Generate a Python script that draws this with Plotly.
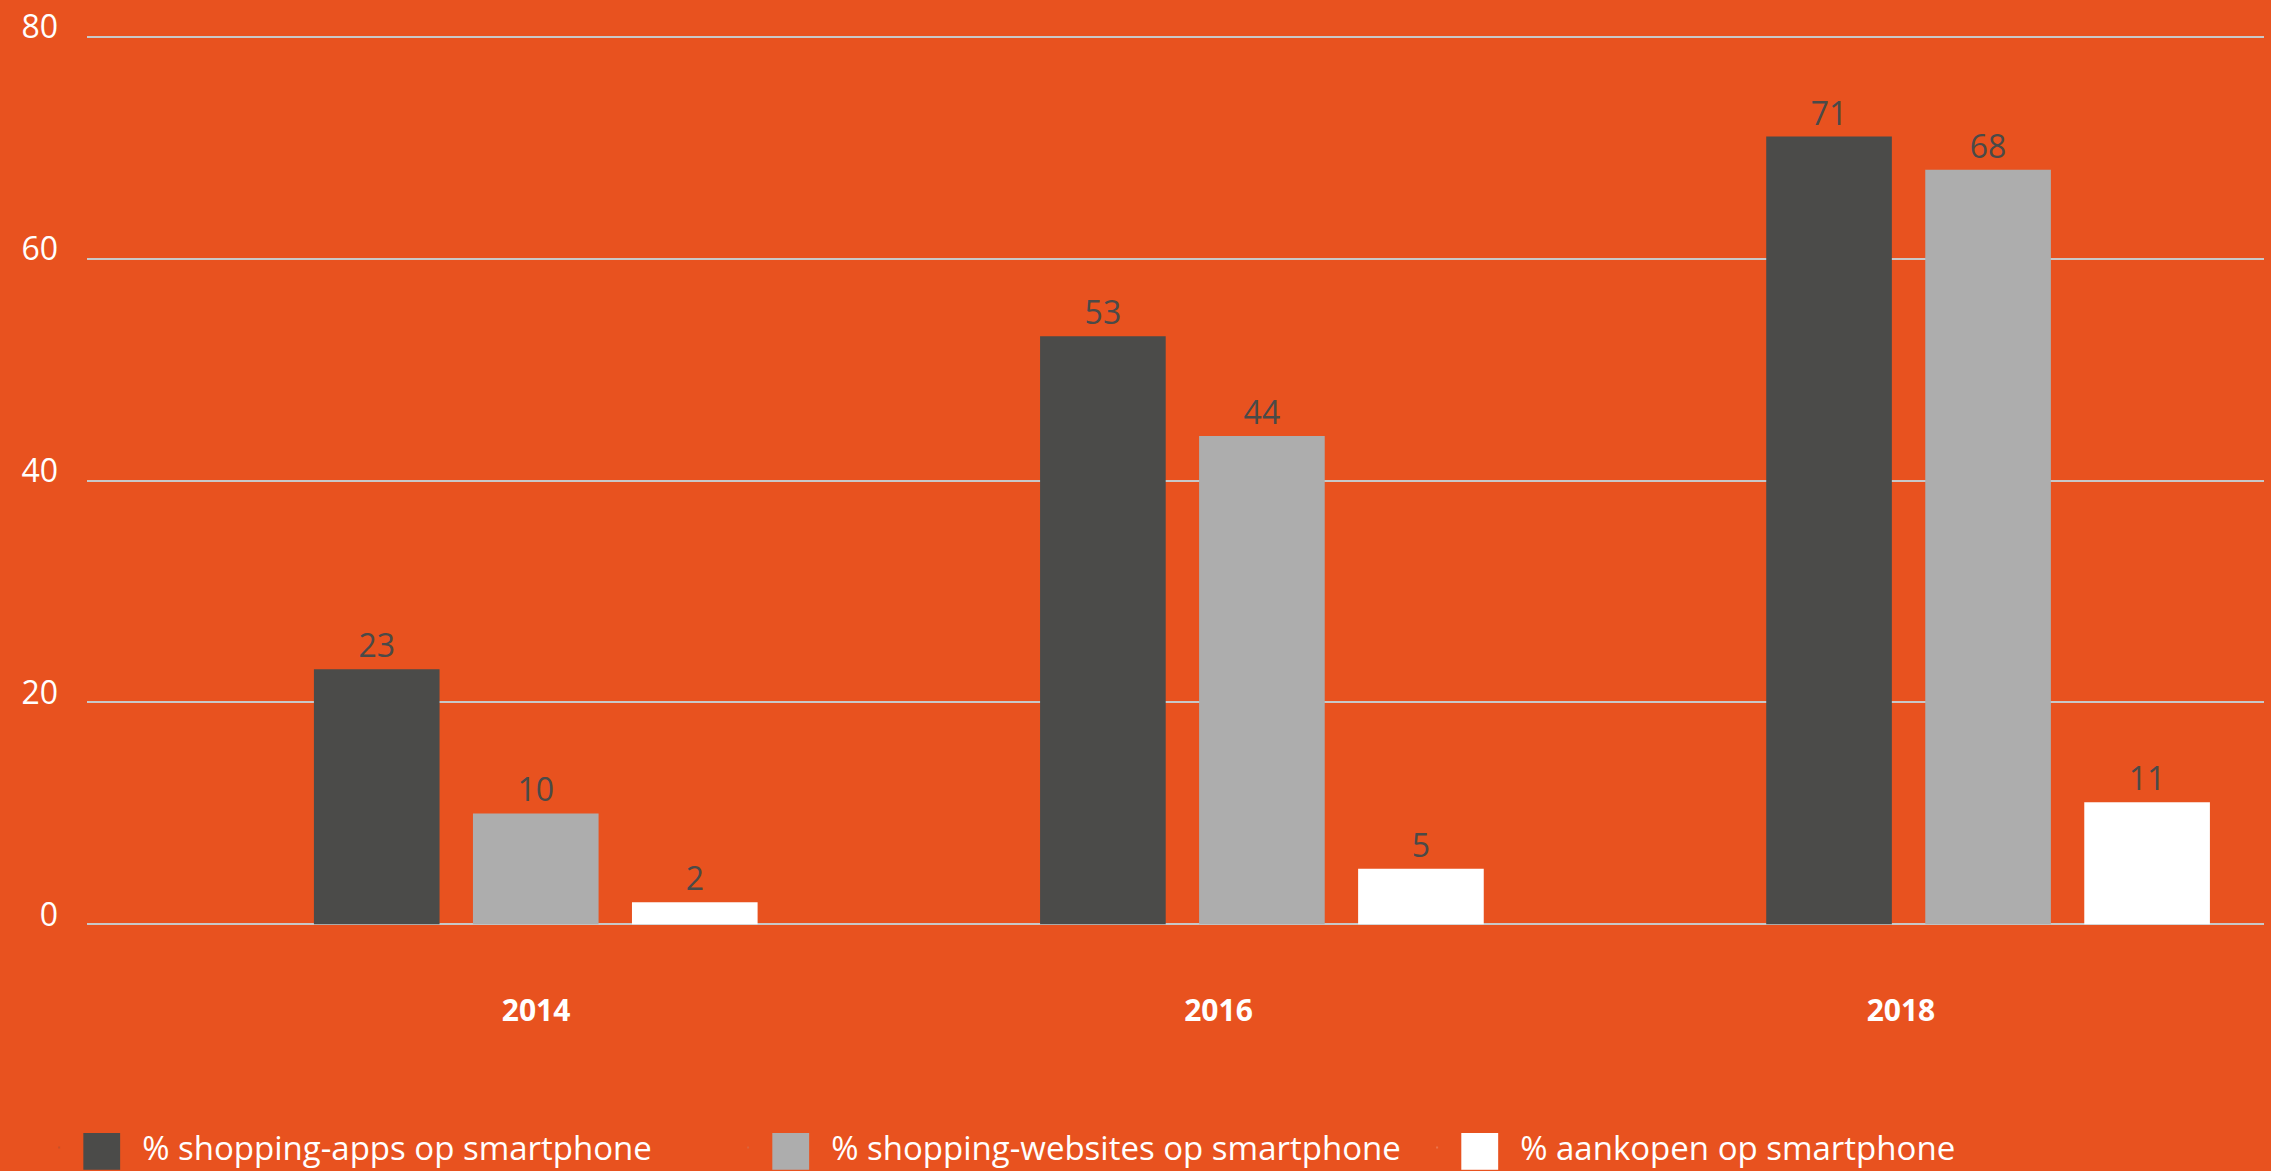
import plotly.graph_objects as go

years = ["2014", "2016", "2018"]
series_names = ["% shopping-apps op smartphone",
                "% shopping-websites op smartphone",
                "% aankopen op smartphone"]
apps = [23, 53, 71]
websites = [10, 44, 68]
aankopen = [2, 5, 11]
y_ticks = [0, 20, 40, 60, 80]

ORANGE = "#E8521F"
DARK = "#4B4B49"
GREY = "#ADADAD"
WHITE = "#FFFFFF"
LABEL = "#4A4A48"
GRID = "#C8C8C8"
FONT = "Open Sans"

fig = go.Figure()
for name, vals, col in zip(series_names, [apps, websites, aankopen], [DARK, GREY, WHITE]):
    fig.add_trace(go.Bar(
        x=years, y=vals, name=name, marker=dict(color=col, line=dict(width=0)),
        text=[str(v) for v in vals], textposition="outside",
        textfont=dict(color=LABEL, size=32, family=FONT),
        cliponaxis=False, showlegend=False, hoverinfo="skip"))

# legend entries (big square glyph + label)
for name, col in zip(series_names, [DARK, GREY, WHITE]):
    fig.add_trace(go.Scatter(
        x=[None], y=[None], mode="markers",
        name=(f"<span style='font-size:76px;color:{col};baseline-shift:-14px'>■</span>"
              f"  {name}"),
        marker=dict(symbol="square", size=1, color=col, opacity=0),
        showlegend=True))

# axis carrying the year labels
fig.add_trace(go.Scatter(
    x=years, y=[0, 0, 0], xaxis="x2", mode="markers",
    marker=dict(opacity=0, size=1), showlegend=False, hoverinfo="skip"))

fig.update_layout(
    width=2271, height=1171,
    paper_bgcolor=ORANGE, plot_bgcolor=ORANGE,
    margin=dict(l=87, r=7, t=35, b=245, autoexpand=False),
    barmode="group", bargap=0.343, bargroupgap=0.21,
    font=dict(family=FONT, color=WHITE),
    xaxis=dict(type="category", range=[-0.618, 2.38], showticklabels=False,
               showgrid=False, zeroline=False, showline=False, ticks=""),
    xaxis2=dict(type="category", overlaying="x", anchor="y", side="bottom",
                range=[-0.658, 2.532], showgrid=False, zeroline=False,
                showline=False, ticks="", ticklabelstandoff=64,
                tickfont=dict(size=30, color=WHITE, family=FONT, weight="bold")),
    yaxis=dict(range=[-0.15, 80.15], tickvals=y_ticks, showgrid=True,
               gridcolor=GRID, gridwidth=2, zeroline=True, zerolinecolor=GRID,
               zerolinewidth=2, showline=False, ticks="",
               ticklabelstandoff=28, ticklabelshift=-10,
               tickfont=dict(size=32, color=WHITE, family=FONT)),
    legend=dict(orientation="h", x=-0.022, xanchor="left", yref="paper",
                y=-0.28, yanchor="bottom", entrywidth=644, entrywidthmode="pixels",
                itemwidth=30,
                font=dict(size=33, color=WHITE, family=FONT),
                bgcolor="rgba(0,0,0,0)"),
)

fig.write_html("out.html", config={"displayModeBar": False},
               post_script="document.body.style.margin='0';document.body.style.overflow='hidden';")
